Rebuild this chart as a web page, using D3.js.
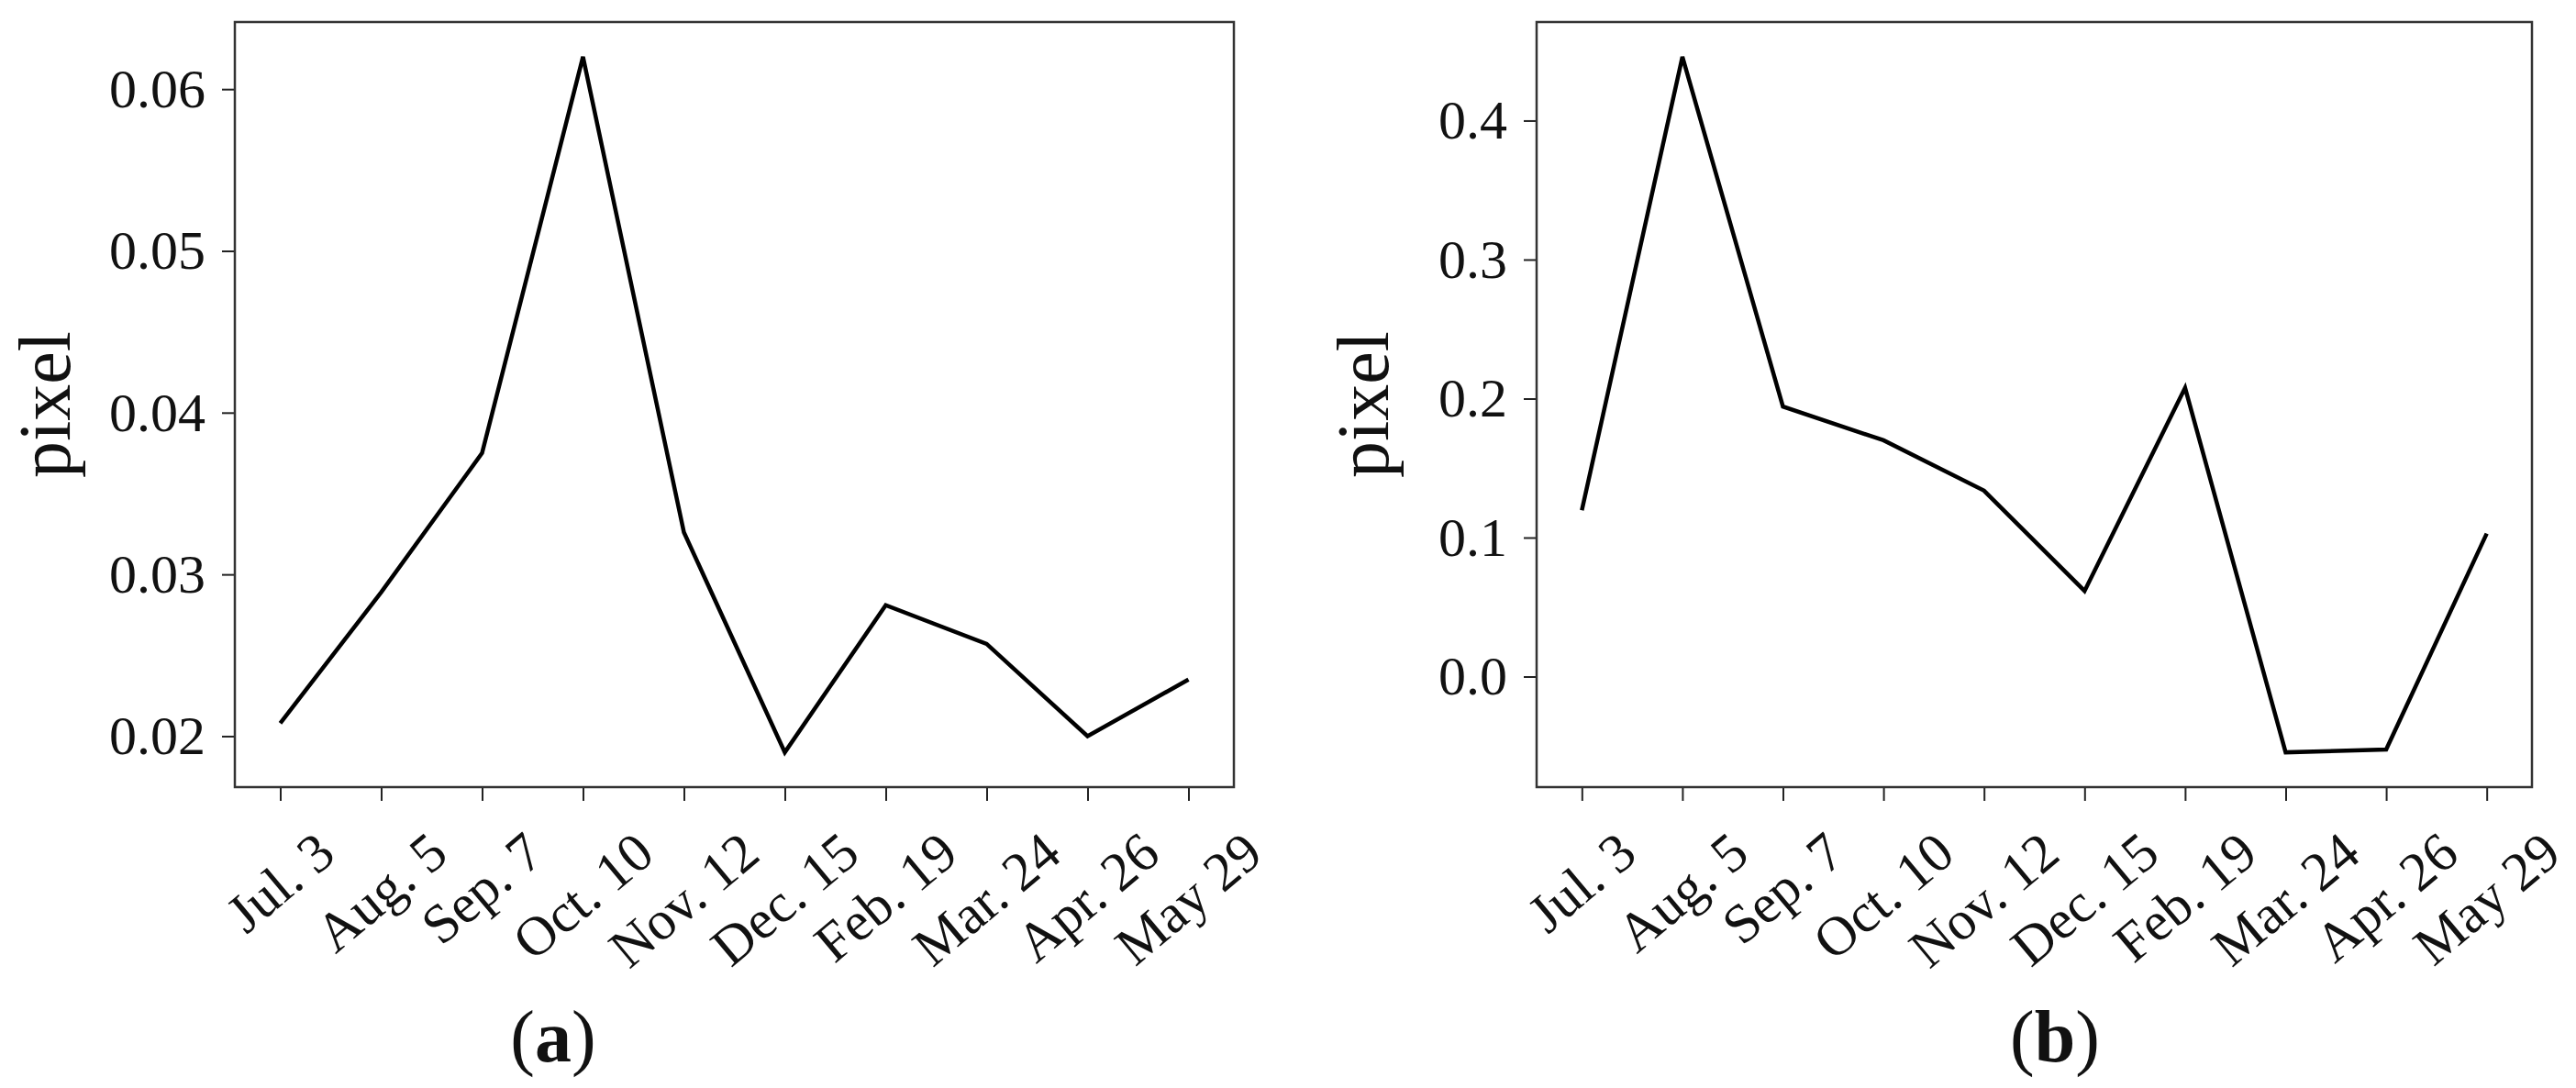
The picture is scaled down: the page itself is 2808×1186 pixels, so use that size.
<!DOCTYPE html>
<html lang="en">
  <head>
    <meta charset="UTF-8" />
    <title>pixel</title>
    <script src="https://cdn.jsdelivr.net/npm/d3@7"></script>
    <style>
      body { margin: 0; background: #fff; }
      text { font-family: "Liberation Serif", "Times New Roman", serif; fill: #111; }
    </style>
  </head>
  <body>
    <script>
      // data
      const dates = ["Jul. 3", "Aug. 5", "Sep. 7", "Oct. 10", "Nov. 12", "Dec. 15", "Feb. 19", "Mar. 24", "Apr. 26", "May 29"];
      const pixelA = [0.0208, 0.0289, 0.0375, 0.062, 0.0326, 0.019, 0.0281, 0.0257, 0.02, 0.0235];
      const pixelB = [0.1196, 0.4459, 0.1943, 0.170, 0.1338, 0.0616, 0.2077, -0.0545, -0.0525, 0.1029];
      const yTicksA = [0.02, 0.03, 0.04, 0.05, 0.06];
      const yTicksB = [0.0, 0.1, 0.2, 0.3, 0.4];

      const W = 2808, H = 1186;
      const svg = d3.select("body").append("svg").attr("width", W).attr("height", H);

      function panel(values, ticks, fmt, box, labelX, caption, capX) {
        const g = svg.append("g");
        // matplotlib style 5% margins
        const x = d3.scaleLinear().domain([-0.45, values.length - 1 + 0.45]).range([box.left, box.right]);
        const ext = d3.extent(values);
        const m = (ext[1] - ext[0]) * 0.05;
        const y = d3.scaleLinear().domain([ext[0] - m, ext[1] + m]).range([box.bottom, box.top]);

        // y axis
        const ya = g.append("g")
          .attr("transform", "translate(" + box.left + ",0)")
          .call(d3.axisLeft(y).tickValues(ticks).tickSize(14).tickPadding(18).tickFormat(d3.format(fmt)));
        ya.select(".domain").remove();
        ya.selectAll("line").attr("stroke", "#222").attr("stroke-width", 2);
        ya.selectAll("text").style("font-size", "60px").attr("fill", "#111");

        // x axis
        const xa = g.append("g")
          .attr("transform", "translate(0," + box.bottom + ")")
          .call(d3.axisBottom(x).tickValues(d3.range(values.length)).tickSize(15).tickFormat(i => dates[i]));
        xa.select(".domain").remove();
        xa.selectAll("line").attr("stroke", "#222").attr("stroke-width", 2);
        const ang = 40 * Math.PI / 180;
        xa.selectAll("text")
          .style("font-size", "60px")
          .attr("fill", "#111")
          .attr("text-anchor", "middle")
          .attr("y", 0)
          .attr("dy", "0.32em")
          .attr("transform", function () {
            const w = this.getComputedTextLength();
            const h = 44;
            const cy = 46 + (w * Math.sin(ang) + h * Math.cos(ang)) / 2;
            return "translate(0," + cy + ") rotate(-40)";
          });

        // frame
        g.append("rect")
          .attr("x", box.left).attr("y", box.top)
          .attr("width", box.right - box.left).attr("height", box.bottom - box.top)
          .attr("fill", "none").attr("stroke", "#333").attr("stroke-width", 2.5);

        // line
        const line = d3.line().x((d, i) => x(i)).y(d => y(d));
        g.append("path")
          .datum(values)
          .attr("d", line)
          .attr("fill", "none")
          .attr("stroke", "#000")
          .attr("stroke-width", 4.5)
          .attr("stroke-linejoin", "miter");

        // y label
        g.append("text")
          .attr("transform", "translate(" + labelX + "," + (box.top + box.bottom) / 2 + ") rotate(-90)")
          .attr("text-anchor", "middle")
          .style("font-size", "80px")
          .text("pixel");

        // caption
        const c = g.append("text")
          .attr("x", capX).attr("y", 1157)
          .attr("text-anchor", "middle")
          .style("font-size", "80px");
        c.append("tspan").text("(");
        c.append("tspan").attr("font-weight", "bold").text(caption);
        c.append("tspan").text(")");
      }

      panel(pixelA, yTicksA, ".2f", { left: 256, right: 1345, top: 24, bottom: 858 }, 76, "a", 603);
      panel(pixelB, yTicksB, ".1f", { left: 1675, right: 2760, top: 24, bottom: 858 }, 1513, "b", 2240);
    </script>
  </body>
</html>
